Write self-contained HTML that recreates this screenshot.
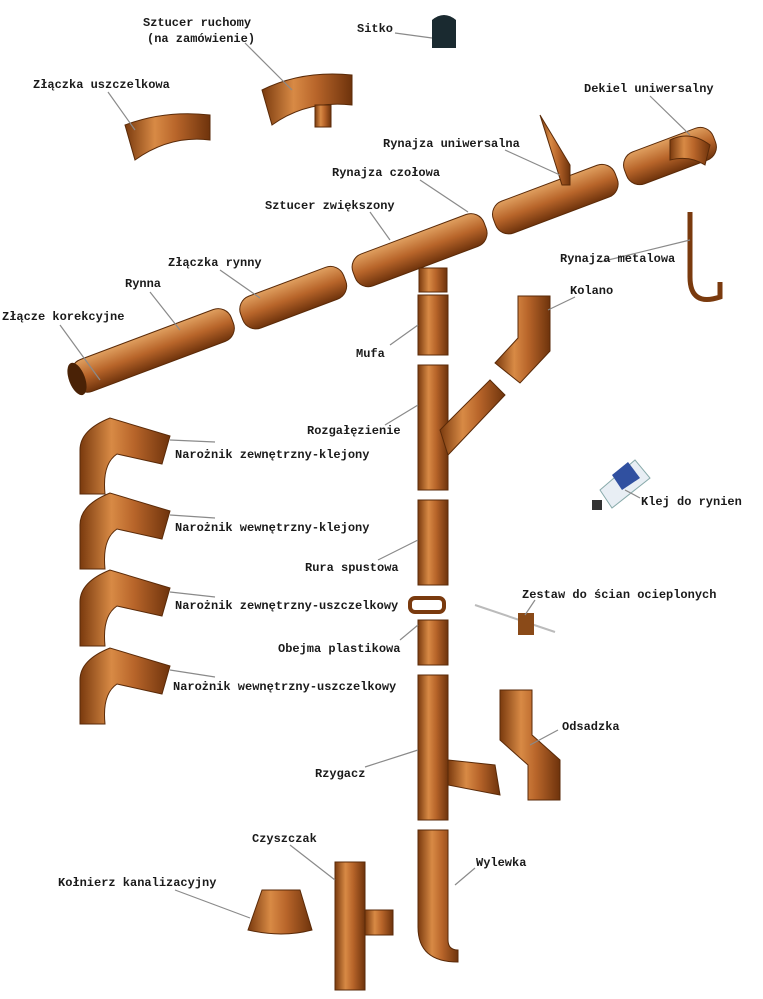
<!DOCTYPE html>
<html><head><meta charset="utf-8"><style>
html,body{margin:0;padding:0;background:#fff}
svg{display:block}
text{font-family:"Liberation Mono",monospace;font-size:12px;font-weight:bold;fill:#1a1a1a}
.l{stroke:#8a8a8a;stroke-width:1.2;fill:none}
.c{fill:url(#cg);stroke:#5a2a08;stroke-width:1}
.d{fill:#4a2206}
</style></head><body>
<svg width="763" height="999" viewBox="0 0 763 999" xmlns="http://www.w3.org/2000/svg">
<defs>
<linearGradient id="cg" x1="0" x2="1" y1="0" y2="0">
<stop offset="0" stop-color="#7a3a0e"/><stop offset="0.35" stop-color="#d88a45"/><stop offset="0.6" stop-color="#b8652a"/><stop offset="1" stop-color="#6e330c"/></linearGradient>
<linearGradient id="gv" x1="0" x2="0" y1="0" y2="1">
<stop offset="0" stop-color="#e0a060"/><stop offset="0.5" stop-color="#b8652a"/><stop offset="1" stop-color="#6e330c"/></linearGradient>
</defs>

<!-- gutter -->
<g transform="translate(75,385) rotate(-20.6)">
<rect x="0" y="-22" width="170" height="34" rx="14" fill="url(#gv)" stroke="#5a2a08"/>
<rect x="180" y="-22" width="110" height="34" rx="14" fill="url(#gv)" stroke="#5a2a08"/>
<rect x="300" y="-22" width="140" height="34" rx="14" fill="url(#gv)" stroke="#5a2a08"/>
<rect x="450" y="-22" width="130" height="34" rx="14" fill="url(#gv)" stroke="#5a2a08"/>
<rect x="590" y="-22" width="95" height="34" rx="14" fill="url(#gv)" stroke="#5a2a08"/>
<ellipse cx="4" cy="-5" rx="8" ry="17" class="d"/>
</g>
<!-- outlet -->
<rect x="419" y="268" width="28" height="24" class="c"/>
<!-- downpipe segments -->
<rect x="418" y="295" width="30" height="60" class="c"/>
<rect x="418" y="365" width="30" height="125" class="c"/>
<polygon points="440,430 490,380 505,395 448,455" class="c"/>
<rect x="418" y="500" width="30" height="85" class="c"/>
<rect x="410" y="598" width="34" height="14" rx="5" fill="none" stroke="#7a3a0e" stroke-width="4"/>
<rect x="418" y="620" width="30" height="45" class="c"/>
<rect x="418" y="675" width="30" height="145" class="c"/>
<polygon points="448,760 495,765 500,795 448,785" class="c"/>
<path d="M418 830 h30 v110 q0 10 10 10 v12 q-40 0 -40 -35 z" class="c"/>
<!-- kolano -->
<path d="M518 296 h32 v55 l-30 32 l-25 -20 l23 -25 z" class="c"/>
<!-- odsadzka -->
<path d="M500 690 h32 v45 l28 25 v40 h-32 v-35 l-28 -25 z" class="c"/>
<!-- corners -->
<g>
<path d="M80 450 q0 -20 30 -32 l60 18 l-8 28 l-45 -10 q-15 10 -12 40 l-25 0 z" class="c"/>
<path d="M80 525 q0 -20 30 -32 l60 18 l-8 28 l-45 -10 q-15 10 -12 40 l-25 0 z" class="c"/>
<path d="M80 602 q0 -20 30 -32 l60 18 l-8 28 l-45 -10 q-15 10 -12 40 l-25 0 z" class="c"/>
<path d="M80 680 q0 -20 30 -32 l60 18 l-8 28 l-45 -10 q-15 10 -12 40 l-25 0 z" class="c"/>
</g>
<!-- top small parts -->
<path d="M125 125 q40 -15 85 -10 l0 25 q-40 -5 -75 20 z" class="c"/>
<path d="M262 90 q40 -20 90 -15 l0 30 q-45 -5 -80 20 z" class="c"/>
<rect x="315" y="105" width="16" height="22" class="c"/>
<path d="M432 20 q12 -10 24 0 v28 h-24 z" fill="#1a2a30"/>
<path d="M670 140 q20 -10 40 5 l-5 20 q-15 -10 -35 -5 z" class="c"/>
<path d="M540 115 l30 50 v20 h-8 z" class="c"/>
<path d="M690 212 v65 q0 30 30 20 v-15" fill="none" stroke="#7a3a0e" stroke-width="5"/>
<!-- glue -->
<polygon points="600,490 635,460 650,478 612,508" fill="#e8eef4" stroke="#8aa"/>
<polygon points="612,475 628,462 640,478 622,490" fill="#3050a0"/>
<rect x="592" y="500" width="10" height="10" fill="#333"/>
<!-- wall kit -->
<line x1="475" y1="605" x2="555" y2="632" stroke="#bbb" stroke-width="2"/>
<rect x="518" y="613" width="16" height="22" fill="#8a4a18"/>
<!-- czyszczak -->
<rect x="335" y="862" width="30" height="128" class="c"/>
<rect x="365" y="910" width="28" height="25" class="c"/>
<!-- kolnierz -->
<path d="M262 890 h38 l12 40 q-30 8 -64 0 z" class="c"/>

<!-- leader lines -->
<path class="l" d="M245 43 L292 90"/><path class="l" d="M395 33 L432 38"/>
<path class="l" d="M108 92 L135 130"/><path class="l" d="M650 96 L690 135"/>
<path class="l" d="M505 150 L560 175"/><path class="l" d="M420 180 L468 212"/>
<path class="l" d="M370 212 L390 240"/><path class="l" d="M220 270 L260 298"/>
<path class="l" d="M150 292 L180 330"/><path class="l" d="M600 262 L690 240"/>
<path class="l" d="M575 297 L548 310"/><path class="l" d="M60 325 L100 380"/>
<path class="l" d="M390 345 L418 325"/><path class="l" d="M385 425 L418 405"/>
<path class="l" d="M640 498 L625 490"/><path class="l" d="M378 560 L418 540"/>
<path class="l" d="M400 640 L418 625"/><path class="l" d="M535 600 L525 615"/>
<path class="l" d="M558 730 L530 745"/><path class="l" d="M365 767 L418 750"/>
<path class="l" d="M290 845 L335 880"/><path class="l" d="M475 868 L455 885"/>
<path class="l" d="M175 890 L250 918"/>
<path class="l" d="M170 440 L215 442"/><path class="l" d="M170 515 L215 518"/>
<path class="l" d="M170 592 L215 597"/><path class="l" d="M170 670 L215 677"/>

<!-- labels -->
<text x="143" y="26">Sztucer ruchomy</text>
<text x="147" y="42">(na zamówienie)</text>
<text x="357" y="32">Sitko</text>
<text x="33" y="88">Złączka uszczelkowa</text>
<text x="584" y="92">Dekiel uniwersalny</text>
<text x="383" y="147">Rynajza uniwersalna</text>
<text x="332" y="176">Rynajza czołowa</text>
<text x="265" y="209">Sztucer zwiększony</text>
<text x="168" y="266">Złączka rynny</text>
<text x="560" y="262">Rynajza metalowa</text>
<text x="125" y="287">Rynna</text>
<text x="570" y="294">Kolano</text>
<text x="2" y="320">Złącze korekcyjne</text>
<text x="356" y="357">Mufa</text>
<text x="307" y="434">Rozgałęzienie</text>
<text x="175" y="458">Narożnik zewnętrzny-klejony</text>
<text x="641" y="505">Klej do rynien</text>
<text x="175" y="531">Narożnik wewnętrzny-klejony</text>
<text x="305" y="571">Rura spustowa</text>
<text x="522" y="598">Zestaw do ścian ocieplonych</text>
<text x="175" y="609">Narożnik zewnętrzny-uszczelkowy</text>
<text x="278" y="652">Obejma plastikowa</text>
<text x="173" y="690">Narożnik wewnętrzny-uszczelkowy</text>
<text x="562" y="730">Odsadzka</text>
<text x="315" y="777">Rzygacz</text>
<text x="252" y="842">Czyszczak</text>
<text x="476" y="866">Wylewka</text>
<text x="58" y="886">Kołnierz kanalizacyjny</text>
</svg>
</body></html>
